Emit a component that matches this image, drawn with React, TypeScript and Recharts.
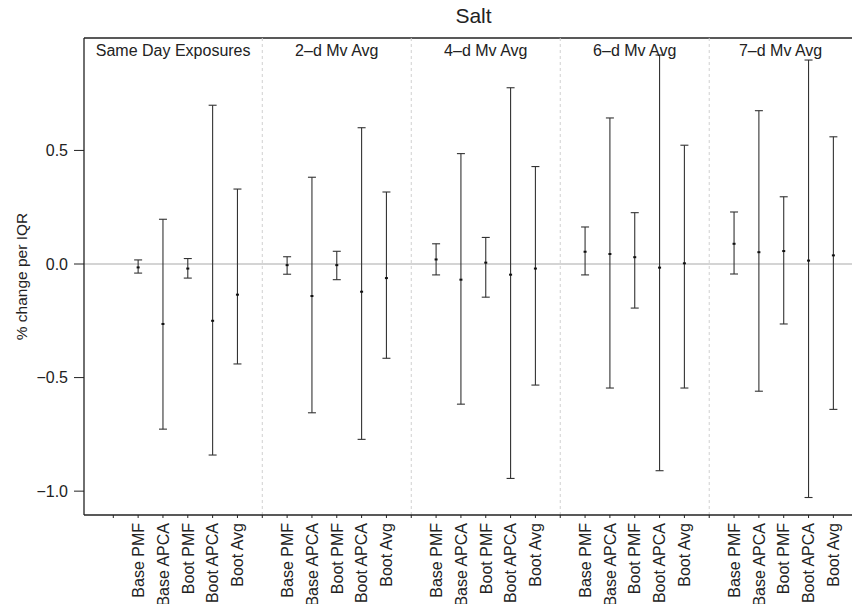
import {
  ErrorBar,
  ReferenceArea,
  ReferenceLine,
  Scatter,
  ScatterChart,
  XAxis,
  YAxis,
} from "recharts"

const groups = [
  "Same Day Exposures",
  "2–d Mv Avg",
  "4–d Mv Avg",
  "6–d Mv Avg",
  "7–d Mv Avg",
]
const methods = ["Base PMF", "Base APCA", "Boot PMF", "Boot APCA", "Boot Avg"]

// one row per group, columns follow `methods`
const estimates = [
  [-0.015, -0.264, -0.02, -0.25, -0.135],
  [-0.005, -0.141, -0.005, -0.122, -0.062],
  [0.02, -0.069, 0.006, -0.047, -0.02],
  [0.054, 0.044, 0.03, -0.016, 0.003],
  [0.089, 0.052, 0.057, 0.015, 0.038],
]
const lower = [
  [-0.04, -0.727, -0.062, -0.841, -0.44],
  [-0.045, -0.655, -0.069, -0.772, -0.415],
  [-0.048, -0.617, -0.146, -0.944, -0.533],
  [-0.048, -0.546, -0.194, -0.91, -0.546],
  [-0.044, -0.56, -0.264, -1.028, -0.64],
]
const upper = [
  [0.018, 0.197, 0.024, 0.699, 0.33],
  [0.032, 0.382, 0.056, 0.6, 0.317],
  [0.089, 0.486, 0.117, 0.776, 0.429],
  [0.163, 0.643, 0.226, 0.92, 0.523],
  [0.229, 0.675, 0.296, 0.898, 0.56],
]
const yTicks = [-1, -0.5, 0, 0.5]

// each panel takes 6 slots: an empty divider slot then the five methods
const SLOTS = methods.length + 1
const X_MIN = -1.18
const X_MAX = 29.75
const Y_MIN = -1.105
const Y_MAX = 0.995

const xTicks = Array.from({ length: groups.length * SLOTS }, (_, i) => i)

const points = groups.flatMap((_, g) =>
  methods.map((m, k) => ({
    slot: g * SLOTS + k + 1,
    method: m,
    est: estimates[g][k],
    err: [estimates[g][k] - lower[g][k], upper[g][k] - estimates[g][k]],
  }))
)

const font = '"Liberation Sans", Arial, Helvetica, sans-serif'
const ink = "#222"

function fmtY(v: number) {
  const s = Math.abs(v).toFixed(1)
  return v < 0 ? `\u2212${s}` : s
}

function MethodTick({ x, y, payload }: any) {
  const slot = payload.value as number
  const k = slot % SLOTS
  if (k === 0) return <g />
  return (
    <text
      x={x}
      y={y}
      transform={`rotate(-90, ${x}, ${y})`}
      textAnchor="end"
      dy="0.36em"
      fontSize={16}
      fontFamily={font}
      fill={ink}
    >
      {methods[k - 1]}
    </text>
  )
}

function Dot({ cx, cy }: any) {
  return <rect x={cx - 1.5} y={cy - 1} width={3} height={2} fill="#111" />
}

export default function App() {
  return (
    <div
      style={{
        position: "absolute",
        left: 0,
        top: 0,
        width: 852,
        height: 604,
        overflow: "hidden",
        background: "#fff",
        fontFamily: font,
      }}
    >
      <div
        style={{
          position: "absolute",
          left: 0,
          top: 4.7,
          width: 947,
          textAlign: "center",
          fontSize: 21,
          lineHeight: "21px",
          color: ink,
        }}
      >
        Salt
      </div>
      <ScatterChart
        width={852}
        height={604}
        margin={{ top: 38, right: 0, bottom: 0, left: 0 }}
      >
        <XAxis
          type="number"
          dataKey="slot"
          domain={[X_MIN, X_MAX]}
          allowDataOverflow
          ticks={xTicks}
          interval={0}
          height={89}
          tickSize={3}
          tickMargin={5}
          tick={<MethodTick />}
          axisLine={{ stroke: ink, strokeWidth: 1.3 }}
          tickLine={{ stroke: ink }}
        />
        <YAxis
          type="number"
          dataKey="est"
          domain={[Y_MIN, Y_MAX]}
          allowDataOverflow
          ticks={yTicks}
          width={84}
          tickSize={10}
          tickMargin={6}
          tickFormatter={fmtY}
          tick={{ fontSize: 16, fill: ink, fontFamily: font }}
          axisLine={{ stroke: ink, strokeWidth: 1.3 }}
          tickLine={{ stroke: ink }}
          label={{
            content: ({ viewBox }: any) => {
              const lx = viewBox.x + 27
              const ly = viewBox.y + viewBox.height / 2
              return (
                <text
                  x={lx}
                  y={ly}
                  transform={`rotate(-90, ${lx}, ${ly})`}
                  textAnchor="middle"
                  fontSize={15.5}
                  fontFamily={font}
                  fill={ink}
                >
                  % change per IQR
                </text>
              )
            },
          }}
        />
        <ReferenceLine y={0} stroke="#d4d4d4" strokeWidth={2} />
        <ReferenceLine y={Y_MAX} stroke={ink} strokeWidth={1.3} />
        {groups.slice(1).map((_, i) => (
          <ReferenceLine
            key={i}
            x={(i + 1) * SLOTS}
            stroke="#d0d0d0"
            strokeDasharray="3 3"
          />
        ))}
        {groups.map((name, g) => (
          <ReferenceArea
            key={name}
            x1={g === 0 ? X_MIN : g * SLOTS}
            x2={g === groups.length - 1 ? X_MAX : (g + 1) * SLOTS}
            fill="none"
            fillOpacity={0}
            stroke="none"
            label={{
              value: name,
              position: "insideTop",
              offset: 7,
              fontSize: 16,
              fill: ink,
              fontFamily: font,
            }}
          />
        ))}
        <Scatter data={points} shape={<Dot />} isAnimationActive={false}>
          <ErrorBar
            dataKey="err"
            direction="y"
            width={4}
            stroke="#333"
            strokeWidth={1.1}
            isAnimationActive={false}
          />
        </Scatter>
      </ScatterChart>
    </div>
  )
}
